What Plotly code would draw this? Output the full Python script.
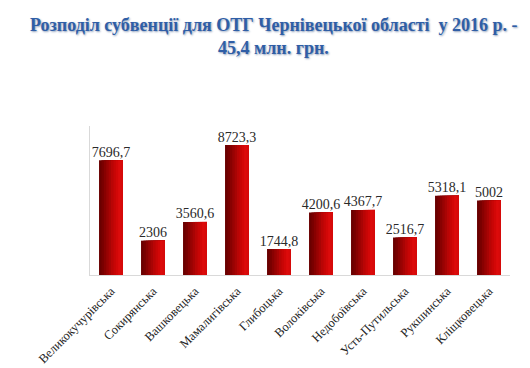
import plotly.graph_objects as go

categories = ["Великокучурівська", "Сокирянська", "Вашковецька", "Мамалигівська",
              "Глибоцька", "Волоківська", "Недобоївська", "Усть-Путильська",
              "Рукшинська", "Кліщковецька"]
values = [7696.7, 2306, 3560.6, 8723.3, 1744.8, 4200.6, 4367.7, 2516.7, 5318.1, 5002]
value_labels = ["7696,7", "2306", "3560,6", "8723,3", "1744,8", "4200,6",
                "4367,7", "2516,7", "5318,1", "5002"]

title_line1 = "Розподіл субвенції для ОТГ Чернівецької області  у 2016 р. -"
title_line2 = "45,4 млн. грн."

# gradient slices (dark left -> bright right)
slice_colors = ["#6a0000", "#780000", "#880101", "#980303", "#a80404",
                "#b80505", "#c60606", "#d20707", "#dc0b0b", "#d60a0a"]
bar_w = 0.57
n = len(slice_colors)
sw = bar_w / n

fig = go.Figure()
for i, c in enumerate(slice_colors):
    w = bar_w - i * sw
    fig.add_trace(go.Bar(
        x=categories, y=values,
        width=w, offset=-bar_w / 2 + i * sw,
        marker=dict(color=c, line=dict(width=0)),
        hoverinfo="skip", showlegend=False,
    ))

fig.add_trace(go.Scatter(
    x=categories, y=values, mode="text", text=value_labels,
    textposition="top center",
    textfont=dict(family="Liberation Serif", size=14, color="#2a2a2a"),
    showlegend=False, hoverinfo="skip",
))

tfont = dict(family="Liberation Serif", size=18, color="#2f5ea6",
             shadow="1px 1px 2px #8f9fba")
fig.update_layout(
    width=530, height=368,
    margin=dict(l=82, r=28, t=118, b=101),
    paper_bgcolor="white", plot_bgcolor="white",
    barmode="overlay",
    font=dict(family="Liberation Serif"),
    annotations=[
        dict(text="<b>" + title_line1 + "</b>", xref="paper", yref="paper",
             x=0.438, y=1.0, yshift=101, xanchor="center", yanchor="middle",
             showarrow=False, font=tfont),
        dict(text="<b>" + title_line2 + "</b>", xref="paper", yref="paper",
             x=0.438, y=1.0, yshift=78, xanchor="center", yanchor="middle",
             showarrow=False, font=tfont),
    ],
    xaxis=dict(
        tickangle=-45, showline=True, linecolor="#d9d9d9", linewidth=1,
        ticks="", showgrid=False, automargin=False, ticklabelstandoff=3,
        tickfont=dict(family="Liberation Serif", size=12.5, color="#222"),
    ),
    yaxis=dict(
        range=[0, 10000], showline=True, linecolor="#d9d9d9", linewidth=1,
        showticklabels=False, ticks="", showgrid=False, zeroline=False,
        automargin=False,
    ),
)

fig.write_html("out.html")
